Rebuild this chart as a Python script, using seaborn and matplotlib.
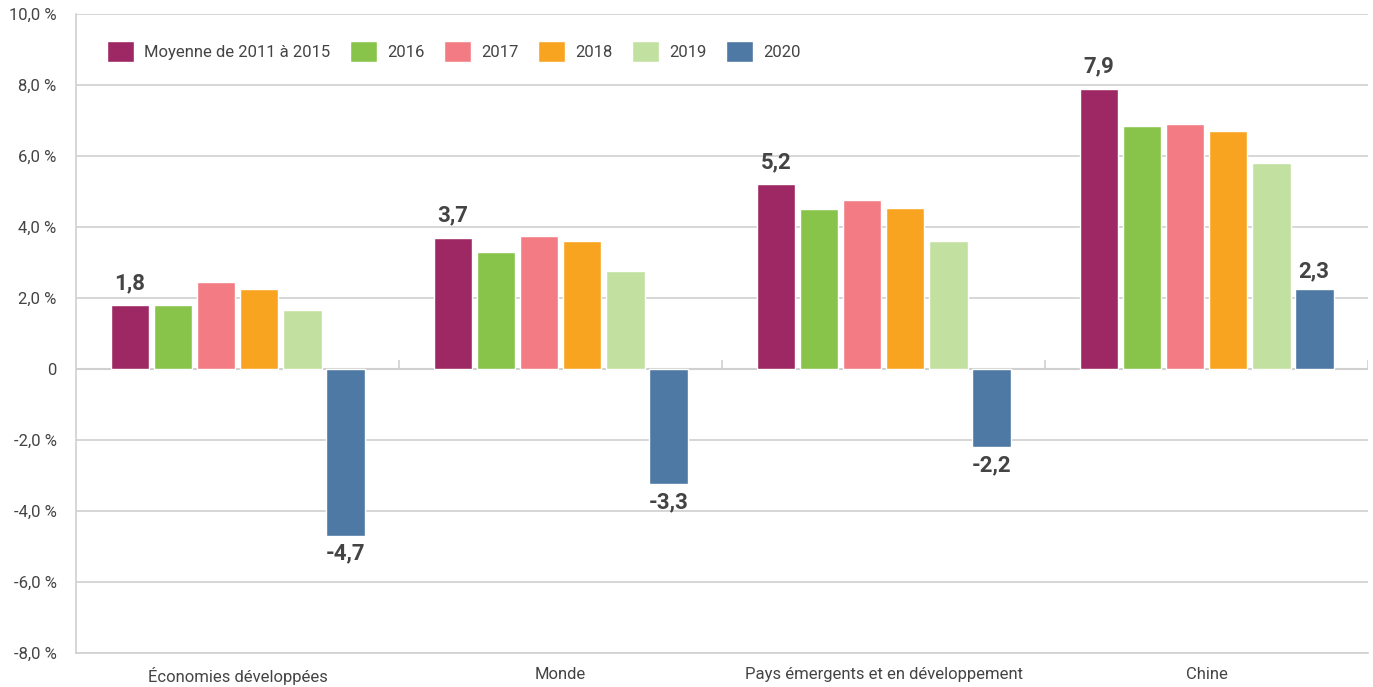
import pandas as pd
import matplotlib.pyplot as plt
import seaborn as sns

# Growth rates by region (%)
regions = ["Économies développées", "Monde", "Pays émergents et en développement", "Chine"]
periods = ["Moyenne de 2011 à 2015", "2016", "2017", "2018", "2019", "2020"]
avg_2011_2015 = [1.8, 3.7, 5.2, 7.9]
y2016 = [1.8, 3.3, 4.5, 6.85]
y2017 = [2.45, 3.75, 4.75, 6.9]
y2018 = [2.25, 3.6, 4.55, 6.7]
y2019 = [1.65, 2.75, 3.6, 5.8]
y2020 = [-4.7, -3.25, -2.2, 2.25]
labels_first = ["1,8", "3,7", "5,2", "7,9"]
labels_last = ["-4,7", "-3,3", "-2,2", "2,3"]
colors = ["#9e2863", "#89c44a", "#f37c84", "#f9a420", "#c2e0a0", "#4e79a4"]
yticks = [-8, -6, -4, -2, 0, 2, 4, 6, 8, 10]
ytick_labels = ["-8,0 %", "-6,0 %", "-4,0 %", "-2,0 %", "0", "2,0 %", "4,0 %", "6,0 %", "8,0 %", "10,0 %"]

series = [avg_2011_2015, y2016, y2017, y2018, y2019, y2020]
rows = []
for period, vals in zip(periods, series):
    for region, v in zip(regions, vals):
        rows.append({"region": region, "period": period, "value": v})
df = pd.DataFrame(rows)

sns.set_style("white")
plt.rcParams["font.family"] = ["Roboto", "DejaVu Sans"]
text_color = "#444444"
grid_color = "#d0d0d0"

fig = plt.figure(figsize=(13.73, 6.87), dpi=100)
ax = fig.add_axes([0.0554, 0.0495, 0.941, 0.930])

sns.barplot(data=df, x="region", y="value", hue="period", order=regions,
            hue_order=periods, palette=colors, width=0.8, gap=0.1,
            saturation=1, ax=ax, legend=True)

ax.set_ylim(-8, 10)
ax.set_xlim(-0.5, 3.5)
ax.set_yticks(yticks)
ax.set_yticklabels(ytick_labels)
ax.yaxis.grid(True, color=grid_color, linewidth=1.2)
ax.set_axisbelow(True)
ax.tick_params(axis="y", length=0, labelsize=12, colors=text_color, pad=14)
ax.tick_params(axis="x", length=0, labelsize=12, colors=text_color, pad=10)
ax.set_xlabel("")
ax.set_ylabel("")

for side in ["top", "right"]:
    ax.spines[side].set_visible(False)
for side in ["left", "bottom"]:
    ax.spines[side].set_color(grid_color)
    ax.spines[side].set_linewidth(1.2)

# zero line with small category separators
ax.axhline(0, color=grid_color, linewidth=1.5, zorder=0.5)
ax.vlines([0.5, 1.5, 2.5, 3.5], 0, 0.25, color=grid_color, linewidth=1.2, zorder=0.5)

# value labels on first and last series
ax.bar_label(ax.containers[0], labels=labels_first, padding=8, fontsize=16,
             fontweight="bold", color=text_color)
ax.bar_label(ax.containers[5], labels=labels_last, padding=5, fontsize=16,
             fontweight="bold", color=text_color)

ax.legend(loc="upper left", bbox_to_anchor=(0.0126, 0.982), ncol=6, frameon=False,
          fontsize=12, handlelength=1.6, handleheight=1.6, handletextpad=0.6,
          columnspacing=1.2, labelcolor=text_color)

fig.savefig("out.png", dpi=100)
